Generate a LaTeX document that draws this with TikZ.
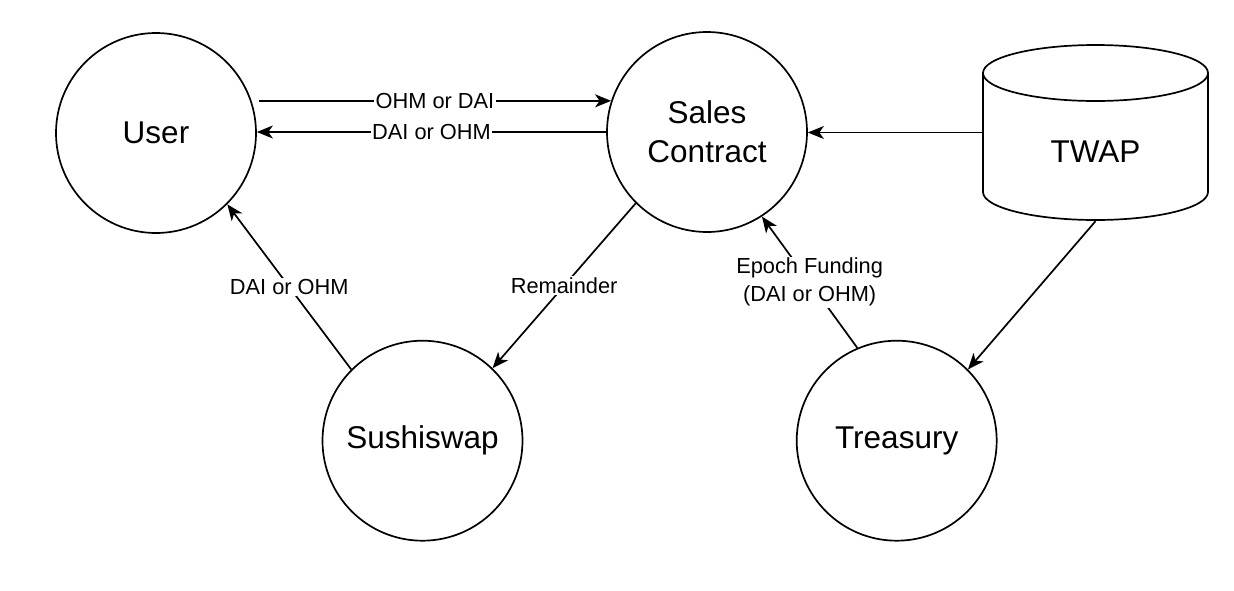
\documentclass[tikz,border=0pt]{standalone}
\usepackage{fontspec}
\setmainfont{Liberation Sans}
\usetikzlibrary{arrows.meta}
\tikzset{
  circnode/.style={circle, draw, line width=1.7pt, minimum size=200pt, inner sep=0pt, align=center,
    font=\fontsize{31.5}{39}\selectfont},
  nodetext/.style={inner sep=0pt, font=\fontsize{31.5}{39}\selectfont},
  conn/.style={line width=1.7pt, -{Stealth[length=16pt,width=13pt,inset=4.5pt]}},
  lbl/.style={fill=white, inner sep=1.5pt, align=center, font=\fontsize{21.8}{28}\selectfont}
}
\begin{document}
\begin{tikzpicture}[x=1pt,y=-1pt]
\useasboundingbox (0,0) rectangle (1234,590);
\fill[white] (0,0) rectangle (1234,590);

\node[circnode] (user) at (156,133) {User};
\node[circnode] (sales) at (707,132) {Sales\\Contract};
\node[circnode] (sushi) at (422.5,440.7) {Sushiswap};
\node[circnode] (treasury) at (896.7,440.7) {Treasury};

% TWAP cylinder
\node[minimum width=225pt, minimum height=175pt, inner sep=0pt] (twap) at (1095.5,132.5) {};
\draw[line width=1.7pt, fill=white]
  (983,73) -- (983,192) arc[start angle=180, end angle=360, x radius=112.5, y radius=-28]
  -- (1208,73) arc[start angle=0, end angle=180, x radius=112.5, y radius=-28] -- cycle;
\draw[line width=1.7pt] (983,73) arc[start angle=180, end angle=360, x radius=112.5, y radius=-28];
\node[nodetext] (twaplabel) at ([yshift=-19.5pt]twap.center) {TWAP};

% connectors
\coordinate (ustart) at (sales.162.5 -| user.east);
\draw[conn] ([xshift=2pt]ustart) -- node[lbl] {OHM or DAI} (sales.162.5);
\draw[conn] (sales.west) -- node[lbl] {DAI or OHM} (sales.west -| user.east);
\draw[conn] (twap.west) -- (twap.west -| sales.east);
\draw[conn] (sales.225.4) -- node[lbl] {Remainder} (sushi.46);
\draw[conn] (sushi.135) -- node[lbl] {DAI or OHM} (user.315);
\draw[conn] (treasury.113) -- node[lbl] {Epoch Funding\\(DAI or OHM)} (sales.303);
\coordinate (twapb) at ([yshift=-1pt]twap.south);
\draw[conn] (twapb) -- (treasury.45.6);
\end{tikzpicture}
\end{document}
